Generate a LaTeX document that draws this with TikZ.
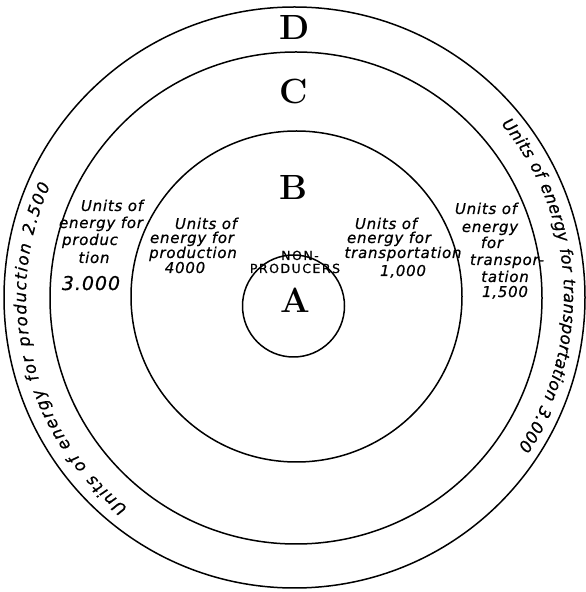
\documentclass[tikz,border=0pt]{standalone}
\usepackage{fontspec}
\usetikzlibrary{decorations.text}
\newfontfamily\hand{DejaVu Sans}[LetterSpace=5,FakeBold=0.6]
\newfontfamily\capsans{DejaVu Sans}[LetterSpace=12,FakeBold=0.6]
\newcommand\outerfont{\hand\itshape\fontsize{16.5}{16.5}\selectfont}
\begin{document}
\begin{tikzpicture}[x=1pt,y=1pt,
  ring/.style={draw=black, line width=1.5pt},
  hw/.style={font=\hand\itshape\fontsize{15}{15}\selectfont, inner sep=0pt, anchor=base},
  hwbig/.style={font=\hand\itshape\fontsize{19}{19}\selectfont, inner sep=0pt, anchor=base},
  bigletter/.style={font=\bfseries\fontsize{35}{35}\selectfont, inner sep=0pt, anchor=base},
  caps/.style={font=\capsans\fontsize{12.5}{12.5}\selectfont, inner sep=0pt, anchor=base}]
\useasboundingbox (0,0) rectangle (586,592);
\fill[white] (0,0) rectangle (586,592);
% circles
\coordinate (cD) at (294.5,294.5);
\coordinate (cC) at (296,294);
\coordinate (cB) at (296.5,295.5);
\coordinate (cA) at (293.5,286);
\coordinate (ctext) at (295,295);
\draw[ring] (cD) circle[radius=290.5pt];
\draw[ring] (cC) circle[radius=246pt];
\draw[ring] (cB) circle[radius=165.5pt];
\draw[ring] (cA) circle[radius=51pt];
% big letters
\node[bigletter] (D) at (295,552) {D};
\node[bigletter] (C) at (294,488) {C};
\node[bigletter] (B) at (293,392) {B};
\node[bigletter] (A) at (295,279) {A};
\node[caps] (non) at (300,332) {NON-};
\node[caps] (prod) at (295,319) {PRODUCERS};
% inner left (B ring)
\node[hw] (bl1) at (206,363) {Units of};
\node[hw] (bl2) at (192,349) {energy for};
\node[hw] (bl3) at (193,334) {production};
\node[hw] (bl4) at (185,319) {4000};
% inner right (B ring)
\node[hw] (br1) at (386,363) {Units of};
\node[hw] (br2) at (389,349) {energy for};
\node[hw] (br3) at (403,334) {transportation};
\node[hw] (br4) at (403,316) {1,000};
% C ring left
\node[hw] (cl1) at (112,381) {Units of};
\node[hw] (cl2) at (101,364) {energy for};
\node[hw] (cl3) at (90,347) {produc};
\node[hw] (cl4) at (94,329) {tion};
\node[hwbig] (cl5) at (91,302) {3.000};
% C ring right
\node[hw] (cr1) at (486,378) {Units of};
\node[hw] (cr2) at (490,360) {energy};
\node[hw] (cr3) at (492,344) {for};
\node[hw] (cr4) at (507,327) {transpor-};
\node[hw] (cr5) at (505,310) {tation};
\node[hw] (cr6) at (505,295) {1,500};
% D ring curved texts
\path[decorate, decoration={text along path, text align={fit to path},
  text={|\outerfont|Units of energy for production 2.500}}]
  (ctext) ++(231.5:269pt) arc[start angle=231.5, end angle=155.5, radius=269pt];
\path[decorate, decoration={text along path, text align={fit to path},
  text={|\outerfont|Units of energy for transportation 3.000}}]
  (ctext) ++(40:269pt) arc[start angle=40, end angle=-34, radius=269pt];
\end{tikzpicture}
\end{document}
